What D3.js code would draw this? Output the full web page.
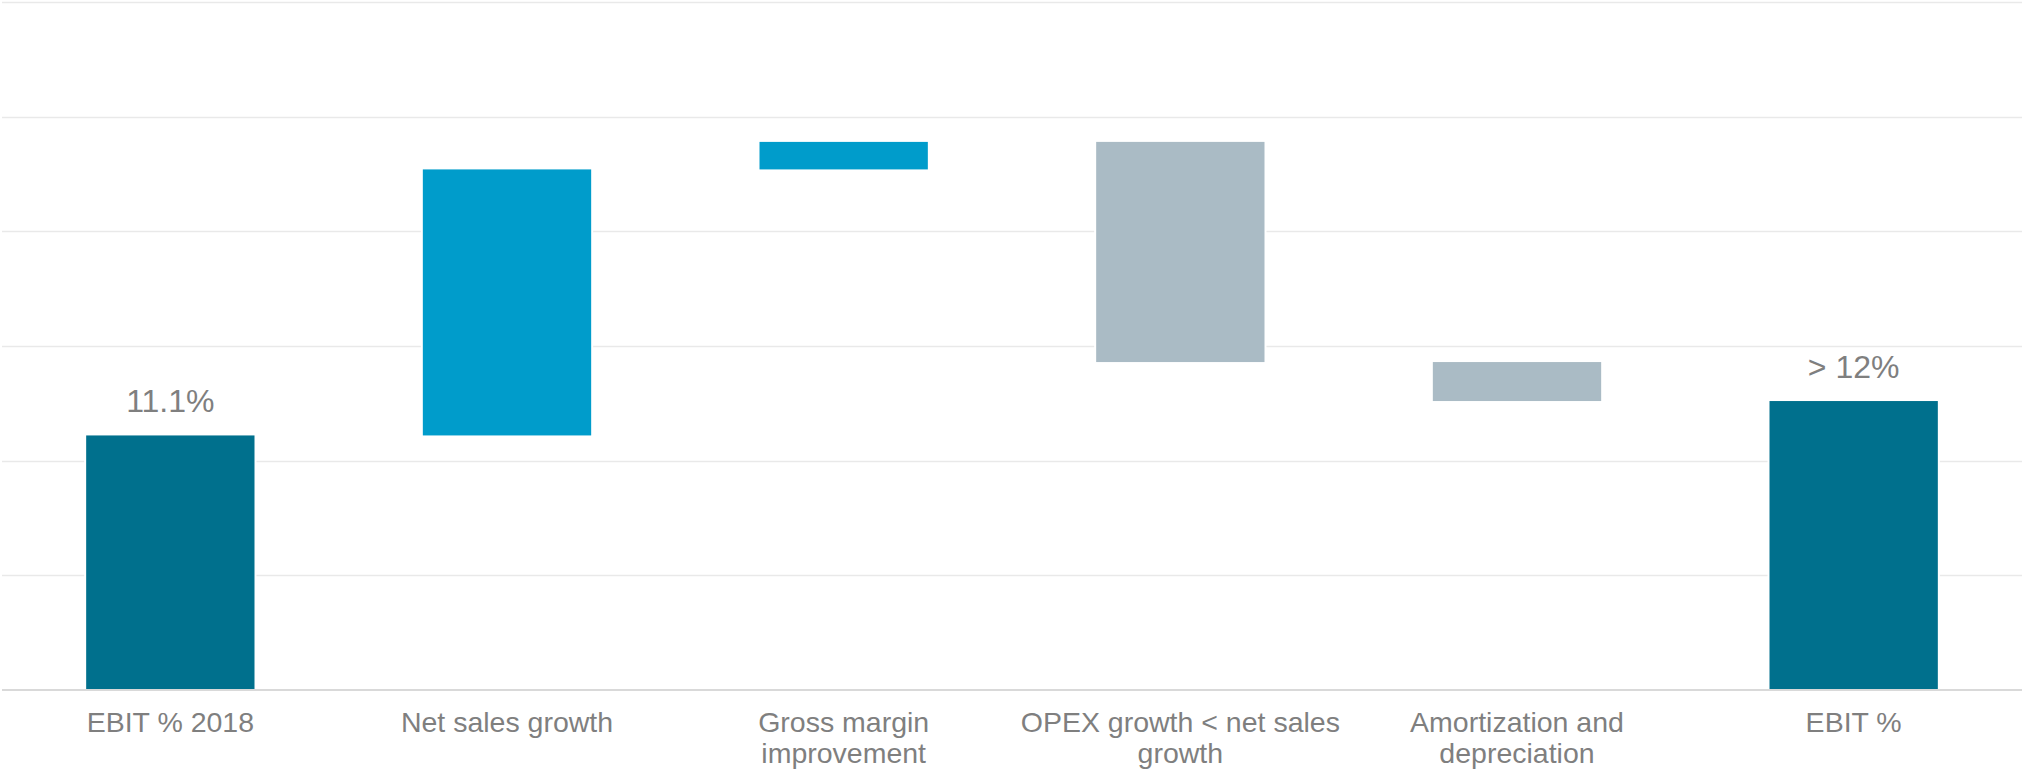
<!DOCTYPE html>
<html>
<head>
<meta charset="utf-8">
<script src="https://cdn.jsdelivr.net/npm/d3@7"></script>
<style>
  body { margin: 0; background: #fff; }
  svg { display: block; font-family: "Liberation Sans", Arial, sans-serif; }
</style>
</head>
<body>
<svg id="chart"></svg>
<script>
// categories (line breaks as in the original slide)
const categories = ["EBIT % 2018", "Net sales growth", "Gross margin\nimprovement",
  "OPEX growth < net sales\ngrowth", "Amortization and\ndepreciation", "EBIT %"];
// first is the start value, then the steps; the last bar is the running total
const steps = [11.1, 11.6, 1.2, -9.6, -1.7];
const valueLabels = ["11.1%", "", "", "", "", "> 12%"];
const gridTicks = [0, 5, 10, 15, 20, 25, 30];

const width = 2022, height = 770;
const margin = {top: 2, right: 0, bottom: 80, left: 2};

const colors = {total: "#00708d", up: "#009ccb", down: "#aabbc5"};

// build the waterfall rows
let data = [];
let run = 0;
steps.forEach((v, i) => {
  if (i === 0) {
    data.push({key: categories[i], y0: 0, y1: v, type: "total"});
  } else {
    data.push({key: categories[i], y0: run, y1: run + v, type: v >= 0 ? "up" : "down"});
  }
  run += v;
});
data.push({key: categories[categories.length - 1], y0: 0, y1: run, type: "total"});

const svg = d3.select("#chart")
  .attr("width", width)
  .attr("height", height);

const x = d3.scaleBand()
  .domain(categories)
  .range([margin.left, width - margin.right])
  .paddingInner(0.5)
  .paddingOuter(0.25);

const y = d3.scaleLinear()
  .domain([0, 30])
  .range([height - margin.bottom, margin.top]);

// gridlines
svg.append("g")
  .selectAll("line")
  .data(gridTicks.filter(d => d > 0))
  .enter()
  .append("line")
  .attr("x1", margin.left)
  .attr("x2", width)
  .attr("y1", d => Math.round(y(d)) + 0.5)
  .attr("y2", d => Math.round(y(d)) + 0.5)
  .attr("stroke", "#e9e9e9")
  .attr("stroke-width", 1.5);

// bars
svg.append("g")
  .selectAll("rect")
  .data(data)
  .enter()
  .append("rect")
  .attr("x", d => x(d.key))
  .attr("width", x.bandwidth())
  .attr("y", d => y(Math.max(d.y0, d.y1)))
  .attr("height", d => Math.abs(y(d.y0) - y(d.y1)))
  .attr("fill", d => colors[d.type])
  .attr("stroke", "#fff")
  .attr("stroke-width", 4)
  .style("paint-order", "stroke");

// axis line
svg.append("line")
  .attr("x1", margin.left)
  .attr("x2", width)
  .attr("y1", y(0))
  .attr("y2", y(0))
  .attr("stroke", "#d9d9d9")
  .attr("stroke-width", 2);

// category labels
const axis = svg.append("g")
  .attr("transform", `translate(0,${y(0)})`)
  .call(d3.axisBottom(x).tickSize(0).tickPadding(0));
axis.select(".domain").remove();
axis.selectAll("text")
  .attr("y", 42)
  .attr("dy", null)
  .style("font-size", "28.5px")
  .style("font-family", "\"Liberation Sans\", Arial, sans-serif")
  .attr("fill", "#7f7f7f")
  .each(function(d) {
    const t = d3.select(this);
    const lines = d.split("\n");
    t.text(null);
    lines.forEach((ln, i) => {
      t.append("tspan")
        .attr("x", 0)
        .attr("dy", i === 0 ? 0 : 31)
        .text(ln);
    });
  });

// value labels on total bars
svg.append("g")
  .selectAll("text")
  .data(data.map((d, i) => ({d: d, label: valueLabels[i]})).filter(e => e.label))
  .enter()
  .append("text")
  .attr("x", e => x(e.d.key) + x.bandwidth() / 2)
  .attr("y", e => y(e.d.y1) - 23)
  .attr("text-anchor", "middle")
  .style("font-size", "32px")
  .attr("fill", "#7f7f7f")
  .text(e => e.label);
</script>
</body>
</html>
